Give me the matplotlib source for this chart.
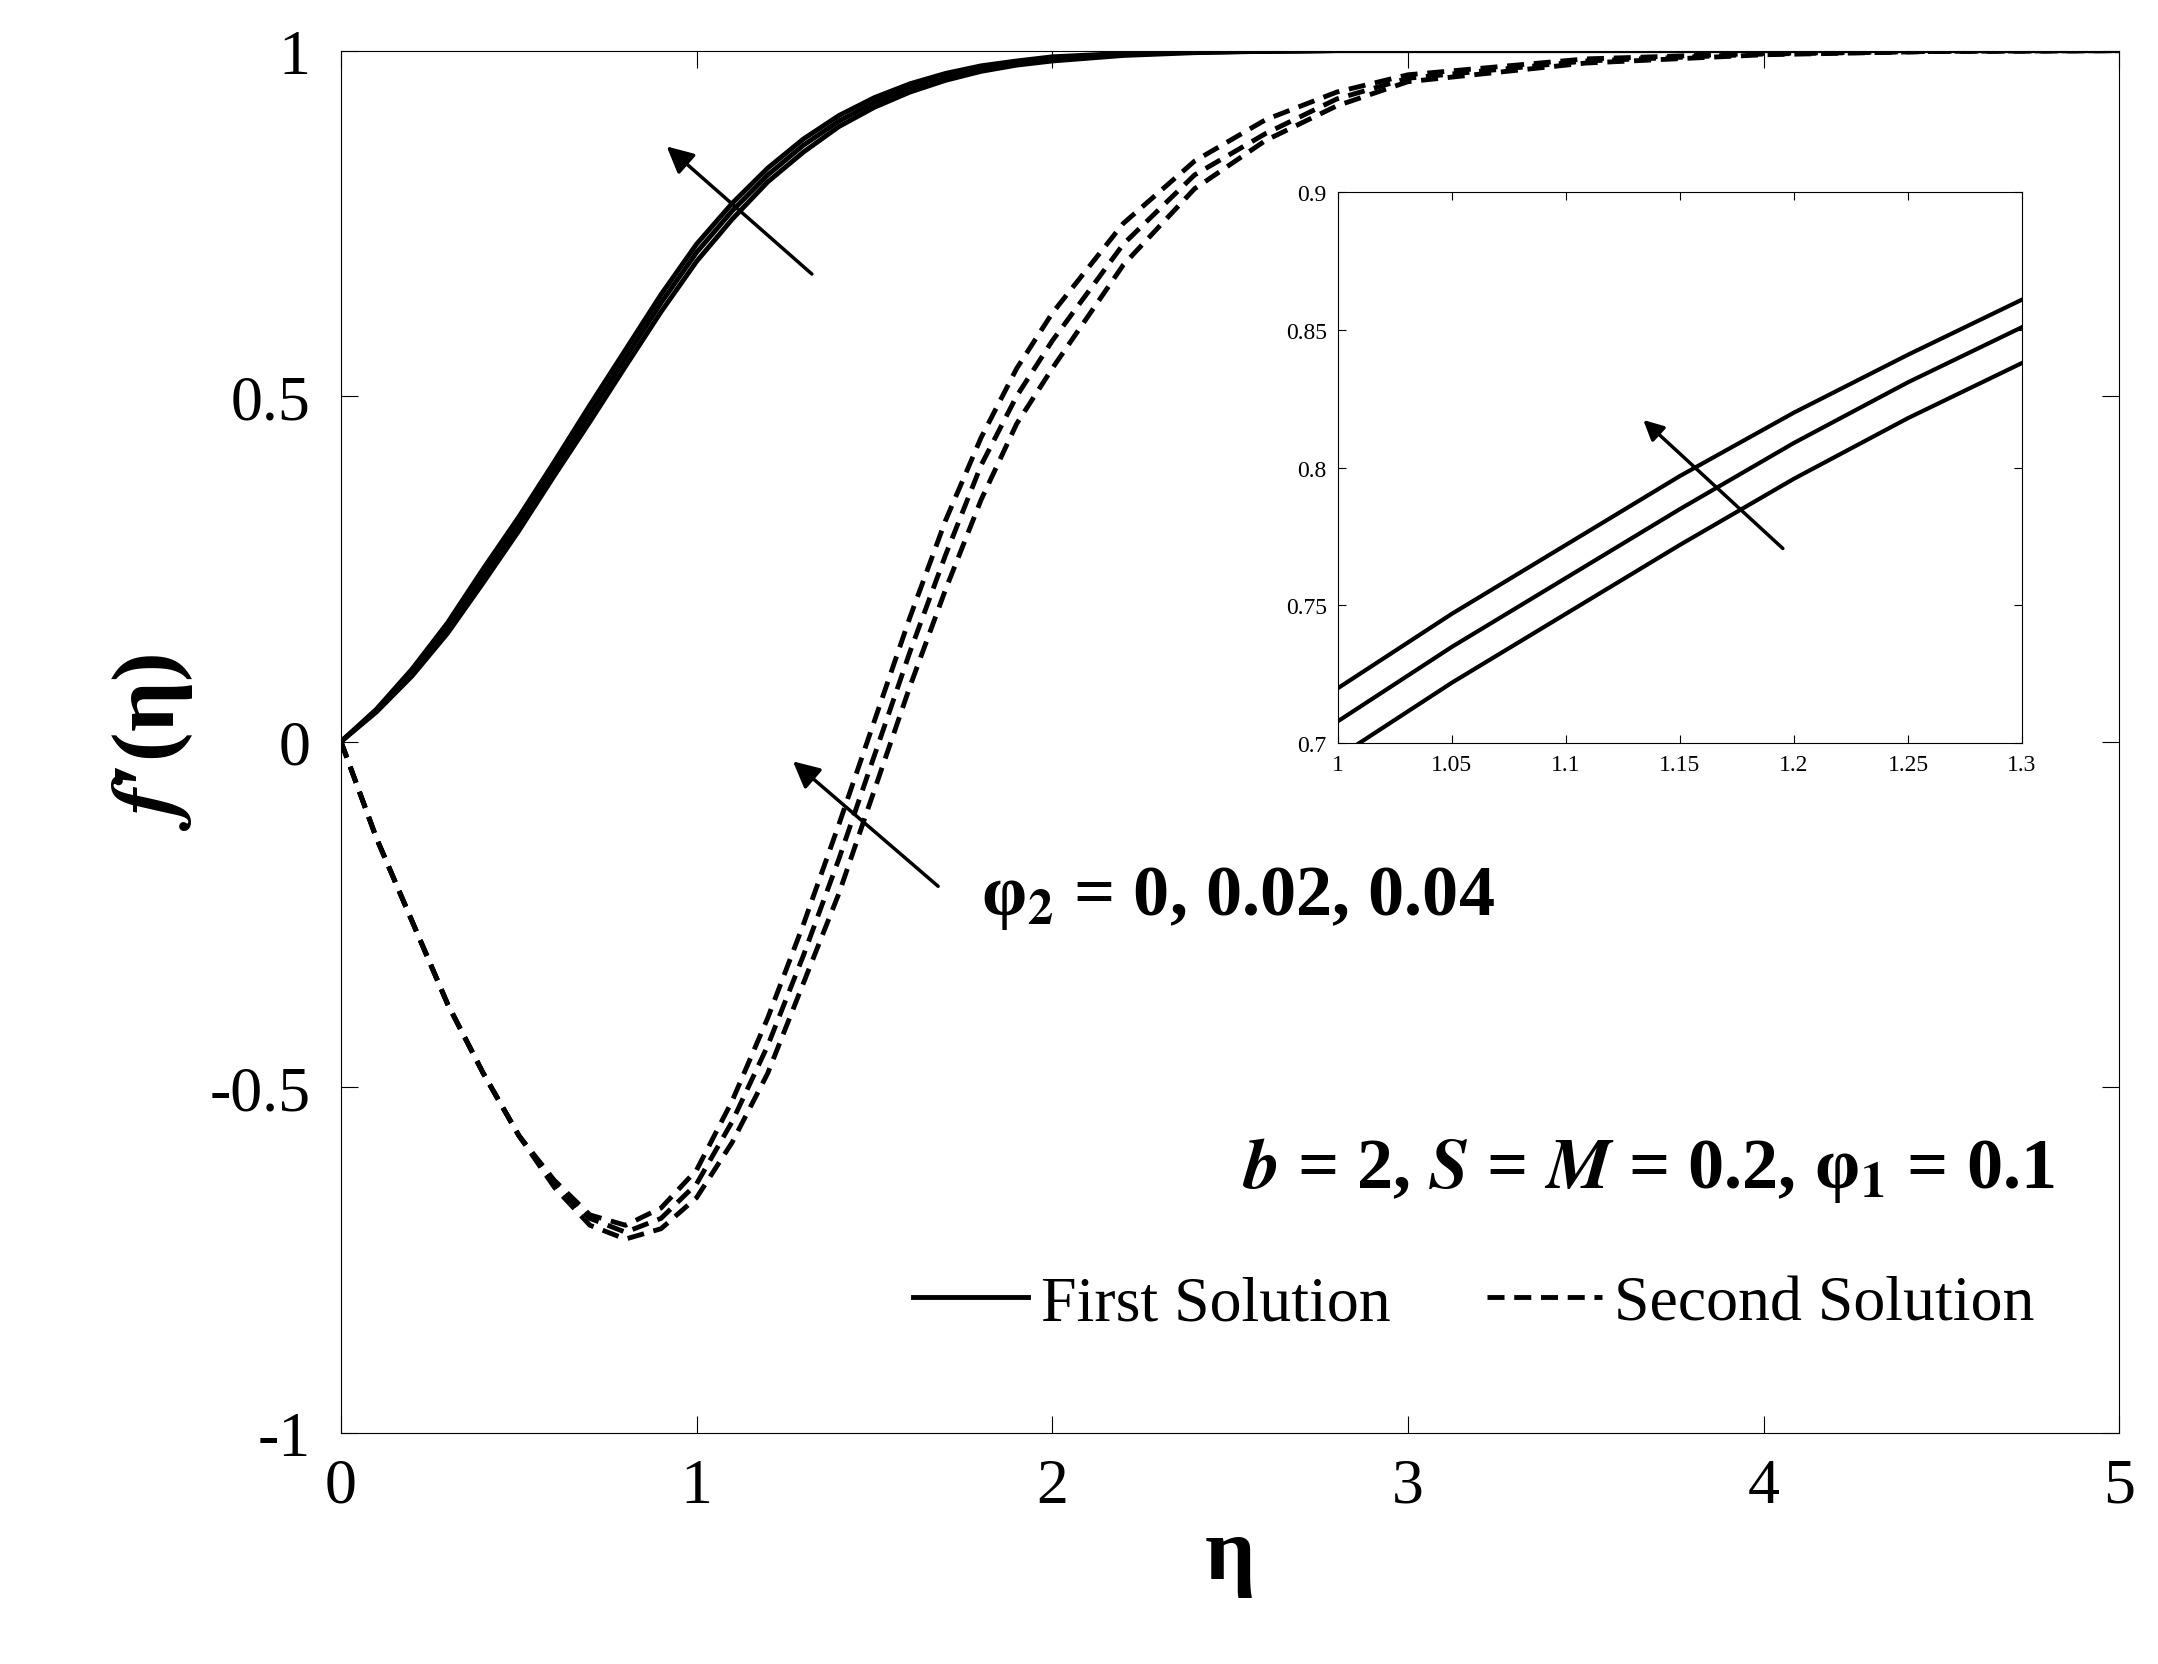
import matplotlib
matplotlib.use("Agg")
import matplotlib.pyplot as plt

plt.rcParams['font.family'] = ['Liberation Serif', 'DejaVu Serif']
plt.rcParams['mathtext.fontset'] = 'stix'

eta = [0, 0.1, 0.2, 0.3, 0.4, 0.5, 0.6, 0.7, 0.8, 0.9, 1.0, 1.1, 1.2, 1.3, 1.4, 1.5, 1.6, 1.7, 1.8, 1.9, 2.0,
       2.2, 2.4, 2.6, 2.8, 3.0, 3.5, 4.0, 4.5, 5.0]
first_phi0 = [0, .043, .095, .157, .23, .305, .385, .463, .543, .622, .695, .756, .81, .853, .89, .918, .94, .957, .97, .979, .985,
              .993, .997, .999, 1, 1, 1, 1, 1, 1]
first_phi002 = [0, .045, .10, .165, .24, .315, .395, .475, .555, .635, .708, .768, .82, .863, .898, .925, .946, .962, .974, .982, .988,
                .995, .998, .999, 1, 1, 1, 1, 1, 1]
first_phi004 = [0, .047, .105, .172, .25, .325, .405, .487, .567, .647, .72, .779, .83, .872, .906, .932, .952, .967, .978, .985, .991,
                .996, .998, .999, 1, 1, 1, 1, 1, 1]
second_phi0 = [0, -.14, -.26, -.38, -.48, -.57, -.645, -.70, -.72, -.705, -.66, -.58, -.48, -.35, -.22, -.07, .08, .22, .35, .46, .54,
               .69, .80, .87, .92, .955, .982, .994, .999, 1]
second_phi002 = [0, -.14, -.26, -.38, -.48, -.57, -.64, -.69, -.71, -.69, -.64, -.55, -.44, -.31, -.17, -.02, .13, .27, .40, .50, .58,
                 .72, .82, .88, .93, .96, .985, .995, .999, 1]
second_phi004 = [0, -.14, -.26, -.38, -.48, -.57, -.635, -.685, -.70, -.675, -.62, -.52, -.40, -.265, -.12, .03, .18, .32, .44, .54, .62,
                 .75, .84, .90, .94, .965, .988, .996, .999, 1]

eta_in = [1.0, 1.05, 1.1, 1.15, 1.2, 1.25, 1.3]
in_phi0 = [0.695, 0.722, 0.747, 0.772, 0.796, 0.818, 0.838]
in_phi002 = [0.708, 0.735, 0.760, 0.785, 0.809, 0.831, 0.851]
in_phi004 = [0.720, 0.747, 0.772, 0.797, 0.820, 0.841, 0.861]

fig = plt.figure(figsize=(21.58, 16.65), dpi=100)
ax = fig.add_axes([0.158, 0.139, 0.824, 0.830])
for y in (first_phi0, first_phi002, first_phi004):
    ax.plot(eta, y, 'k-', lw=3.5)
for y in (second_phi0, second_phi002, second_phi004):
    ax.plot(eta, y, 'k--', lw=3.5, dashes=(3.5, 2))
ax.set_xlim(0, 5)
ax.set_ylim(-1, 1)
ax.set_xticks([0, 1, 2, 3, 4, 5])
ax.set_yticks([-1, -0.5, 0, 0.5, 1])
ax.set_yticklabels(['-1', '-0.5', '0', '0.5', '1'])
ax.tick_params(direction='in', labelsize=46, length=12, top=True, right=True)
ax.tick_params(axis='y', pad=22)
ax.tick_params(axis='x', pad=18)
ax.set_xlabel('η', fontsize=64, fontweight='bold', labelpad=0)
ax.set_ylabel("$\\boldsymbol{f}$\u2032(η)", fontsize=64, fontweight='bold', labelpad=10)

arr = dict(arrowstyle='-|>', color='k', lw=2.5, mutation_scale=40)
ax.annotate('', xy=(0.91, 0.864), xytext=(1.33, 0.674), arrowprops=arr)
ax.annotate('', xy=(1.265, -0.026), xytext=(1.685, -0.212), arrowprops=arr)
ax.text(1.80, -0.226, 'φ$_\\mathbf{2}$ = 0, 0.02, 0.04', fontsize=52, fontweight='bold', va='center', ha='left')
ax.text(4.82, -0.62, '$\\boldsymbol{b}$ = 2, $\\boldsymbol{S}$ = $\\boldsymbol{M}$ = 0.2, φ$_\\mathbf{1}$ = 0.1',
        fontsize=52, fontweight='bold', va='center', ha='right')
h1, = ax.plot([], [], 'k-', lw=3.5, label='First Solution')
h2, = ax.plot([], [], 'k--', lw=3.5, dashes=(3.5, 2), label='Second Solution')
ax.legend(handles=[h1, h2], loc='lower right', bbox_to_anchor=(0.985, 0.03), ncol=2, frameon=False,
          fontsize=46, handlelength=1.8, columnspacing=1.5, handletextpad=0.2)

ins = fig.add_axes([0.620, 0.553, 0.317, 0.331])
for y in (in_phi0, in_phi002, in_phi004):
    ins.plot(eta_in, y, 'k-', lw=3)
ins.set_xlim(1, 1.3)
ins.set_ylim(0.7, 0.9)
ins.set_xticks([1, 1.05, 1.1, 1.15, 1.2, 1.25, 1.3])
ins.set_xticklabels(['1', '1.05', '1.1', '1.15', '1.2', '1.25', '1.3'])
ins.set_yticks([0.7, 0.75, 0.8, 0.85, 0.9])
ins.set_yticklabels(['0.7', '0.75', '0.8', '0.85', '0.9'])
ins.tick_params(direction='in', labelsize=17, length=6, top=True, right=True, pad=8)
ins.annotate('', xy=(1.133, 0.818), xytext=(1.196, 0.770), arrowprops=dict(arrowstyle='-|>', color='k', lw=2.5, mutation_scale=30))

fig.savefig('out.png', dpi=100)
